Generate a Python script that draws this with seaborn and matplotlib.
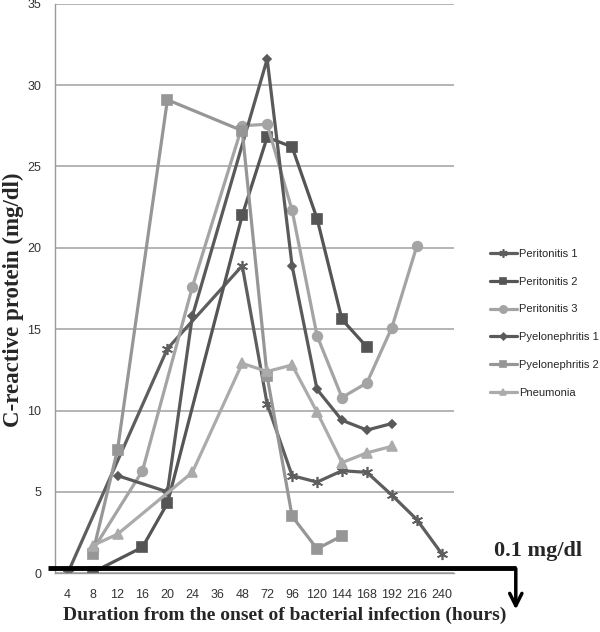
import matplotlib
matplotlib.use("Agg")
import matplotlib.pyplot as plt
import seaborn as sns
import pandas as pd
import numpy as np

# x axis categories (hours)
hours = ["4", "8", "12", "16", "20", "24", "36", "48", "72", "96",
         "120", "144", "168", "192", "216", "240"]

# CRP values (mg/dl), None = not measured
peritonitis_1 = [0.0, None, None, None, 13.8, None, None, 18.9, 10.4, 6.0,
                 5.6, 6.3, 6.2, 4.8, 3.3, 1.2]
peritonitis_2 = [None, 0.05, None, 1.6, 4.3, None, None, 22.0, 26.8, 26.2,
                 21.8, 15.6, 13.9, None, None, None]
peritonitis_3 = [None, 1.4, None, 6.3, None, 17.6, None, 27.5, 27.6, 22.3,
                 14.6, 10.8, 11.7, 15.1, 20.1, None]
pyelonephritis_1 = [None, None, 6.0, None, 5.0, 15.8, None, None, 31.6, 18.9,
                    11.3, 9.4, 8.8, 9.2, None, None]
pyelonephritis_2 = [None, 1.2, 7.6, None, 29.1, None, None, 27.2, 12.1, 3.5,
                    1.5, 2.3, None, None, None, None]
pneumonia = [None, 1.7, 2.4, None, None, 6.2, None, 12.9, 12.4, 12.8,
             9.9, 6.8, 7.4, 7.8, None, None]

series = [
    ("Peritonitis 1", peritonitis_1, "#5e5e5e", (6, 2, 0), 8),
    ("Peritonitis 2", peritonitis_2, "#555555", "s", 6.5),
    ("Peritonitis 3", peritonitis_3, "#a4a4a4", "o", 7),
    ("Pyelonephritis 1", pyelonephritis_1, "#5a5a5a", "D", 4.5),
    ("Pyelonephritis 2", pyelonephritis_2, "#969696", "s", 6.5),
    ("Pneumonia", pneumonia, "#ababab", "^", 6.5),
]

sns.set_style("white")
serif = ["Liberation Serif", "DejaVu Serif"]
sans = ["Liberation Sans", "DejaVu Sans"]

fig = plt.figure(figsize=(6.0, 6.32), dpi=100)
ax = fig.add_axes([0.092, 0.093, 0.665, 0.901])

for name, vals, col, mk, ms in series:
    df = pd.DataFrame({"pos": np.arange(len(hours)), "crp": vals}).dropna()
    sns.lineplot(data=df, x="pos", y="crp", ax=ax, color=col, marker=mk,
                 markersize=ms, markeredgecolor=col, markeredgewidth=1.2,
                 linewidth=2.3, label=name, sort=False)

ax.set_xlim(-0.5, len(hours) - 0.5)
ax.set_ylim(0, 35)
ax.set_yticks(range(0, 36, 5))
ax.set_xticks(range(len(hours)))
ax.set_xticklabels(hours, family=sans)
for t in ax.get_yticklabels():
    t.set_family(sans)
ax.set_xticks(np.arange(-0.5, len(hours), 1), minor=True)
ax.tick_params(axis="x", which="major", length=0, pad=11, labelsize=9,
               labelcolor="#333333")
ax.tick_params(axis="x", which="minor", length=4, color="#999999")
ax.tick_params(axis="y", length=4, color="#999999", labelsize=9,
               labelcolor="#333333", pad=6)
ax.yaxis.grid(True, color="#a8a8a8", linewidth=1.2)
ax.set_axisbelow(True)
for s in ["top", "right"]:
    ax.spines[s].set_visible(False)
for s in ["left", "bottom"]:
    ax.spines[s].set_color("#999999")
    ax.spines[s].set_linewidth(1)

ax.set_xlabel("Duration from the onset of bacterial infection (hours)",
              fontsize=14, fontweight="bold", family=serif)
ax.xaxis.set_label_coords(0.574, -0.058)
ax.set_ylabel("C-reactive protein (mg/dl)", fontsize=16.5,
              fontweight="bold", family=serif)
ax.yaxis.set_label_coords(-0.078, 0.48)

leg = ax.legend(loc="upper left", bbox_to_anchor=(0.8, 0.622),
                bbox_transform=fig.transFigure, frameon=False,
                prop={"family": sans, "size": 8},
                handlelength=2.4, labelspacing=1.6, handletextpad=0.2,
                markerscale=0.75)

# 0.1 mg/dl threshold line with arrow
ax.plot([-0.78, 17.97], [0.35, 0.35], color="black", linewidth=3.5,
        clip_on=False, solid_capstyle="butt", zorder=10)
ax.annotate("", xy=(17.97, -2.4), xytext=(17.97, 0.45),
            arrowprops=dict(arrowstyle="->", color="black", lw=2.5,
                            mutation_scale=22),
            annotation_clip=False, zorder=10)
fig.text(0.823, 0.121, "0.1 mg/dl", fontsize=16, fontweight="bold",
         family=serif)

fig.savefig("out.png", dpi=100)
